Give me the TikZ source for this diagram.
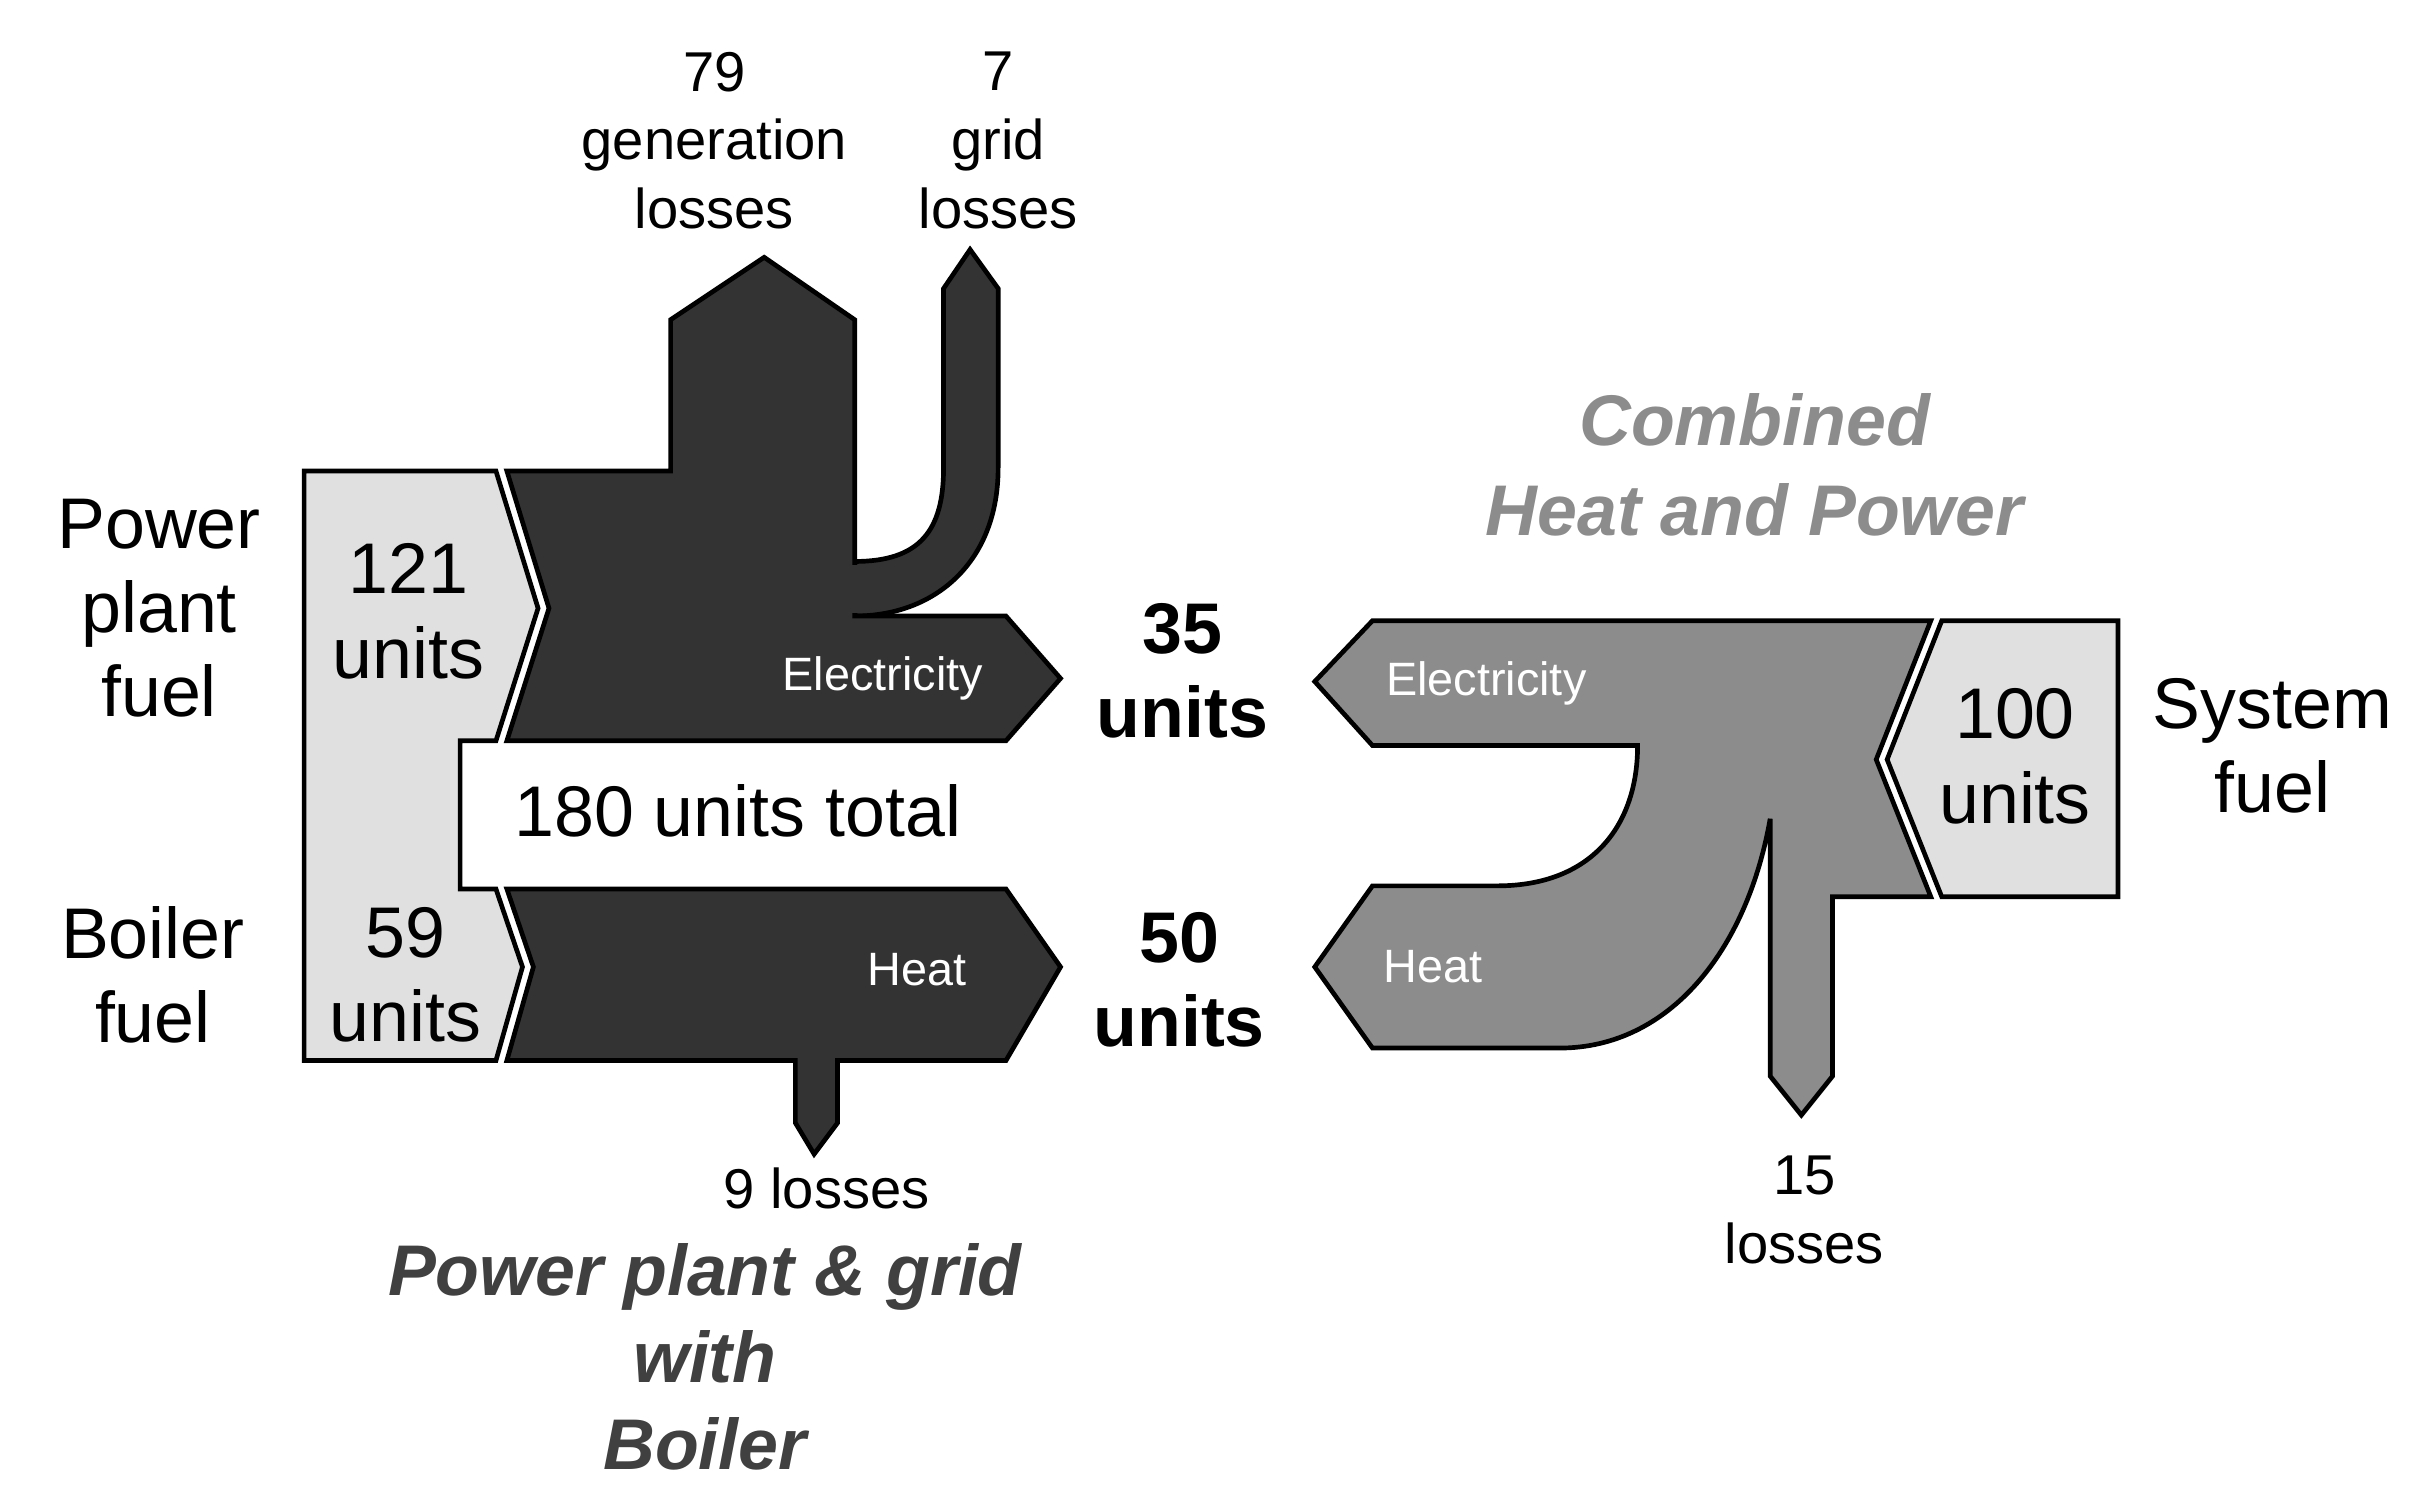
\documentclass[tikz,border=0pt]{standalone}
\usepackage{fontspec}
\setmainfont{Liberation Sans}
\definecolor{dk}{HTML}{333333}
\definecolor{md}{HTML}{8C8C8C}
\definecolor{lt}{HTML}{E0E0E0}
\definecolor{tg}{HTML}{404040}
\begin{document}
\begin{tikzpicture}[x=0.5pt,y=-0.5pt,line width=1.5pt,line join=miter,
  dkf/.style={fill=dk,draw=black},
  mdf/.style={fill=md,draw=black},
  ltf/.style={fill=lt,draw=black},
  big/.style={font=\fontsize{23}{27}\selectfont,align=center},
  sml/.style={font=\fontsize{18}{22}\selectfont,align=center},
  inl/.style={font=\fontsize{15}{18}\selectfont,text=white},
  bld/.style={font=\fontsize{23}{27}\selectfont\bfseries,align=center}]
\useasboundingbox (0,0) rectangle (1560,962);
% left light
\path[ltf] (195,302)--(318,302)--(345,390)--(318,475)--(295,475)--(295,570)--(318,570)--(335,620)--(318,680)--(195,680)--cycle;
% grid loss branch
\path[dkf] (548,360) .. controls (590,360) and (605,340) .. (605,300) -- (605,185) -- (622,160) -- (640,185) -- (640,300) .. controls (640,360) and (600,395) .. (548,395) -- cycle;
% dark top
\path[dkf] (325,302)--(430,302)--(430,205)--(490,165)--(548,205)--(548,395)--(645,395)--(680,435)--(645,475)--(325,475)--(352,390)--cycle;
\fill[dk] (546,362) rectangle (556,393);
% dark bottom
\path[dkf] (325,570)--(645,570)--(680,620)--(645,680)--(537,680)--(537,720)--(522,740)--(510,720)--(510,680)--(325,680)--(342,620)--cycle;
% right light
\path[ltf] (1245,398)--(1358,398)--(1358,575)--(1245,575)--(1210,487)--cycle;
% right gray
\path[mdf] (843,437)--(880,398)--(1238,398)--(1203,487)--(1238,575)--(1175,575)--(1175,690)--(1155,715)--(1135,690)--(1135,525) .. controls (1120,610) and (1070,672) .. (1000,672) -- (880,672) -- (843,620) -- (880,568) -- (960,568) .. controls (1020,568) and (1050,530) .. (1050,478) -- (880,478) -- cycle;
% texts
\node[big] (ppf) at (102,390) {Power\\plant\\fuel};
\node[big] (bf) at (98,625) {Boiler\\fuel};
\node[big] (u121) at (262,392) {121\\units};
\node[big] (u59) at (260,625) {59\\units};
\node[big] (tot) at (473,520) {180 units total};
\node[sml] (gen) at (458,90) {79\\generation\\losses};
\node[sml] (grid) at (640,90) {7\\grid\\losses};
\node[inl] (el1) at (566,435) {Electricity};
\node[inl] (ht1) at (588,622) {Heat};
\node[sml] (l9) at (530,762) {9 losses};
\node[bld] (u35) at (758,430) {35\\units};
\node[bld] (u50) at (756,628) {50\\units};
\node[inl] (el2) at (953,438) {Electricity};
\node[inl] (ht2) at (919,620) {Heat};
\node[big] (u100) at (1292,485) {100\\units};
\node[big] (sf) at (1457,478) {System\\fuel};
\node[sml] (l15) at (1157,776) {15\\losses};
\node[bld,text=md,font=\fontsize{23}{29}\selectfont\bfseries\itshape] (chp) at (1125,298) {Combined\\Heat and Power};
\node[bld,text=tg,font=\fontsize{23}{28}\selectfont\bfseries\itshape] (pp) at (452,870) {Power plant \& grid\\with\\Boiler};
\end{tikzpicture}
\end{document}
